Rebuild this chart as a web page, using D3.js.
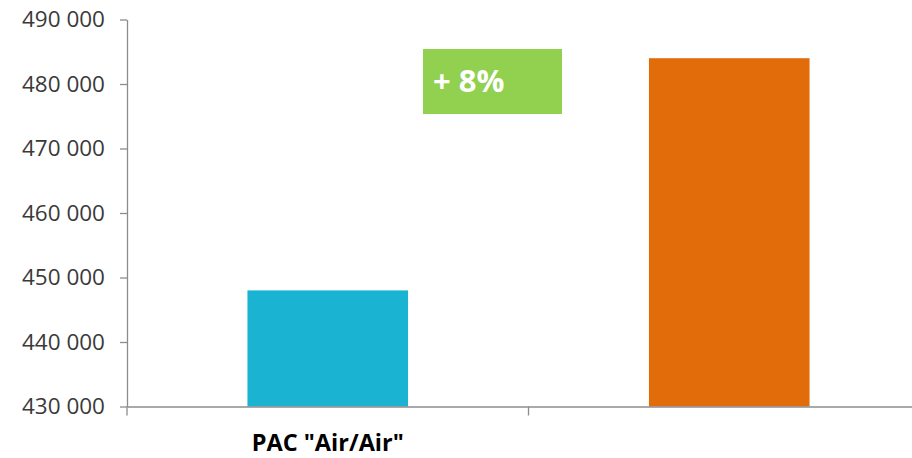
<!DOCTYPE html>
<html>
<head>
<meta charset="utf-8">
<script src="https://cdn.jsdelivr.net/npm/d3@7"></script>
<style>
  body { margin: 0; background: #fff; }
  svg { display: block; }
</style>
</head>
<body>
<svg id="chart"></svg>
<script>
// data
const categories = ['PAC "Air/Air"', ""];
const values = [448000, 484000];
const barColors = ["#1BB3D2", "#E36C0A"];
const yTicks = [430000, 440000, 450000, 460000, 470000, 480000, 490000];

const W = 912, H = 458;
const margin = {top: 19.5, left: 127, bottom: 51.5};

const svg = d3.select("#chart").attr("width", W).attr("height", H);

const x = d3.scaleBand()
    .domain(d3.range(categories.length))
    .range([margin.left, 930])
    .paddingInner(0)
    .paddingOuter(0);

const y = d3.scaleLinear()
    .domain([430000, 490000])
    .range([H - margin.bottom, margin.top]);

const fmt = v => d3.format(",")(v).replace(/,/g, " ");

// bars (width is ~40% of a band)
const barW = x.bandwidth() * 0.4;
svg.selectAll("rect.bar")
    .data(values)
    .enter().append("rect")
    .attr("class", "bar")
    .attr("x", (d, i) => x(i) + (x.bandwidth() - barW) / 2)
    .attr("width", barW)
    .attr("y", d => y(d))
    .attr("height", d => y(430000) - y(d))
    .attr("fill", (d, i) => barColors[i]);

// y axis
const yAxis = svg.append("g")
    .attr("transform", `translate(${margin.left},0)`)
    .call(d3.axisLeft(y).tickValues(yTicks).tickFormat(fmt).tickSize(7).tickPadding(15).tickSizeOuter(0));
yAxis.select(".domain").attr("stroke", "#8c8c8c").attr("stroke-width", 1.3);
yAxis.selectAll(".tick line").attr("stroke", "#8c8c8c").attr("stroke-width", 1.3);
yAxis.selectAll(".tick text")
    .attr("fill", "#3a3a3a")
    .style("font-family", "'Open Sans', sans-serif")
    .style("font-size", "22.5px");

// x axis line with category separators
const xAxis = svg.append("g")
    .attr("transform", `translate(0,${y(430000)})`)
    .call(d3.axisBottom(x).tickValues([]).tickSizeOuter(0));
xAxis.select(".domain").attr("stroke", "#8c8c8c").attr("stroke-width", 1.3);
svg.selectAll("line.sep")
    .data(d3.range(categories.length))
    .enter().append("line")
    .attr("class", "sep")
    .attr("x1", d => x(d)).attr("x2", d => x(d))
    .attr("y1", y(430000)).attr("y2", y(430000) + 9)
    .attr("stroke", "#8c8c8c").attr("stroke-width", 1.3);

// category labels
svg.selectAll("text.cat")
    .data(categories)
    .enter().append("text")
    .attr("class", "cat")
    .attr("x", (d, i) => x(i) + x.bandwidth() / 2)
    .attr("y", 451)
    .attr("text-anchor", "middle")
    .attr("fill", "#000")
    .style("font-family", "'Open Sans', sans-serif")
    .style("font-weight", "bold")
    .style("font-size", "23.5px")
    .text(d => d);

// growth annotation
const growth = Math.round((values[1] / values[0] - 1) * 100);
const note = svg.append("g").attr("transform", "translate(423,49)");
note.append("rect").attr("width", 139).attr("height", 65).attr("fill", "#92D050");
note.append("text")
    .attr("x", 10).attr("y", 43)
    .attr("fill", "#fff")
    .style("font-family", "'Open Sans', sans-serif")
    .style("font-weight", "bold")
    .style("font-size", "31px")
    .text(`+ ${growth}%`);
</script>
</body>
</html>
